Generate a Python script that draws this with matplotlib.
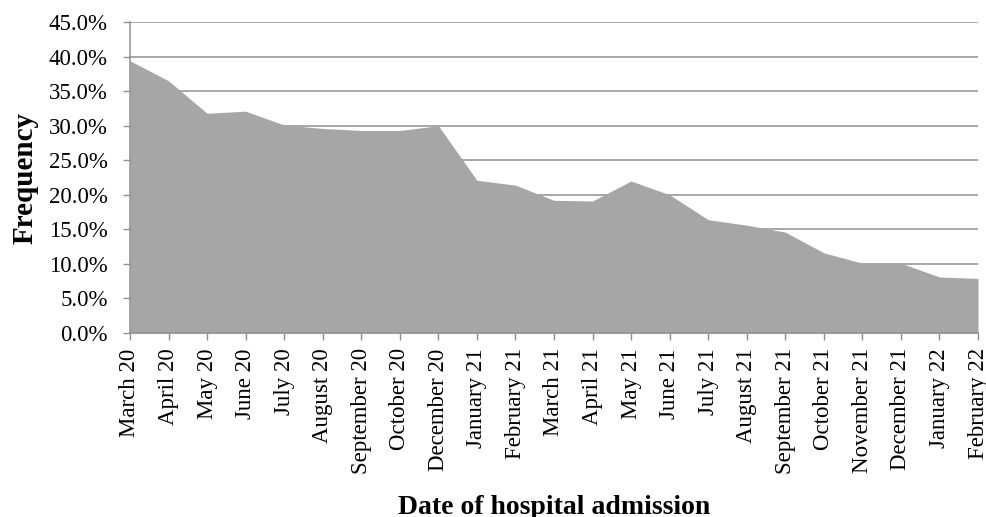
import matplotlib
matplotlib.use("Agg")
import matplotlib.pyplot as plt
from matplotlib.ticker import FuncFormatter, MultipleLocator

months = [
    "March 20", "April 20", "May 20", "June 20", "July 20", "August 20",
    "September 20", "October 20", "December 20", "January 21", "February 21",
    "March 21", "April 21", "May 21", "June 21", "July 21", "August 21",
    "September 21", "October 21", "November 21", "December 21", "January 22",
    "February 22",
]
frequency = [
    39.4, 36.5, 31.8, 32.1, 30.1, 29.6, 29.3, 29.3, 30.0, 22.1, 21.4,
    19.2, 19.1, 22.0, 20.0, 16.4, 15.6, 14.6, 11.6, 10.1, 10.1, 8.1, 7.9,
]

GRID = "#8f8f8f"
FILL = "#a6a6a6"

plt.rcParams["font.family"] = ["Liberation Serif", "DejaVu Serif"]

fig = plt.figure(figsize=(9.86, 5.17), dpi=100)
ax = fig.add_axes([0.1318, 0.3559, 0.8601, 0.6015])

x = list(range(len(months)))
ax.fill_between(x, 0, frequency, color=FILL, linewidth=0, zorder=2)

ax.set_xlim(0, len(months) - 1)
ax.set_ylim(0, 45)
ax.yaxis.set_major_locator(MultipleLocator(5))
ax.yaxis.set_major_formatter(FuncFormatter(lambda v, p: f"{v:.1f}%"))
ax.grid(axis="y", color=GRID, linewidth=1.1, zorder=1)
ax.set_axisbelow(True)

ax.set_xticks(x)
ax.set_xticklabels(months, rotation=90)

for side in ("top", "right"):
    ax.spines[side].set_visible(False)
for side in ("left", "bottom"):
    ax.spines[side].set_color(GRID)
    ax.spines[side].set_linewidth(1.1)
    ax.spines[side].set_zorder(3)

ax.tick_params(axis="y", length=5, color=GRID, width=1, pad=11, labelsize=16.5)
ax.tick_params(axis="x", length=5, color=GRID, width=1, pad=6, labelsize=16.5)

ax.set_ylabel("Frequency", fontsize=21, fontweight="bold", labelpad=7)
ax.set_xlabel("Date of hospital admission", fontsize=20, fontweight="bold", labelpad=15)

fig.savefig("out.png", dpi=100)
